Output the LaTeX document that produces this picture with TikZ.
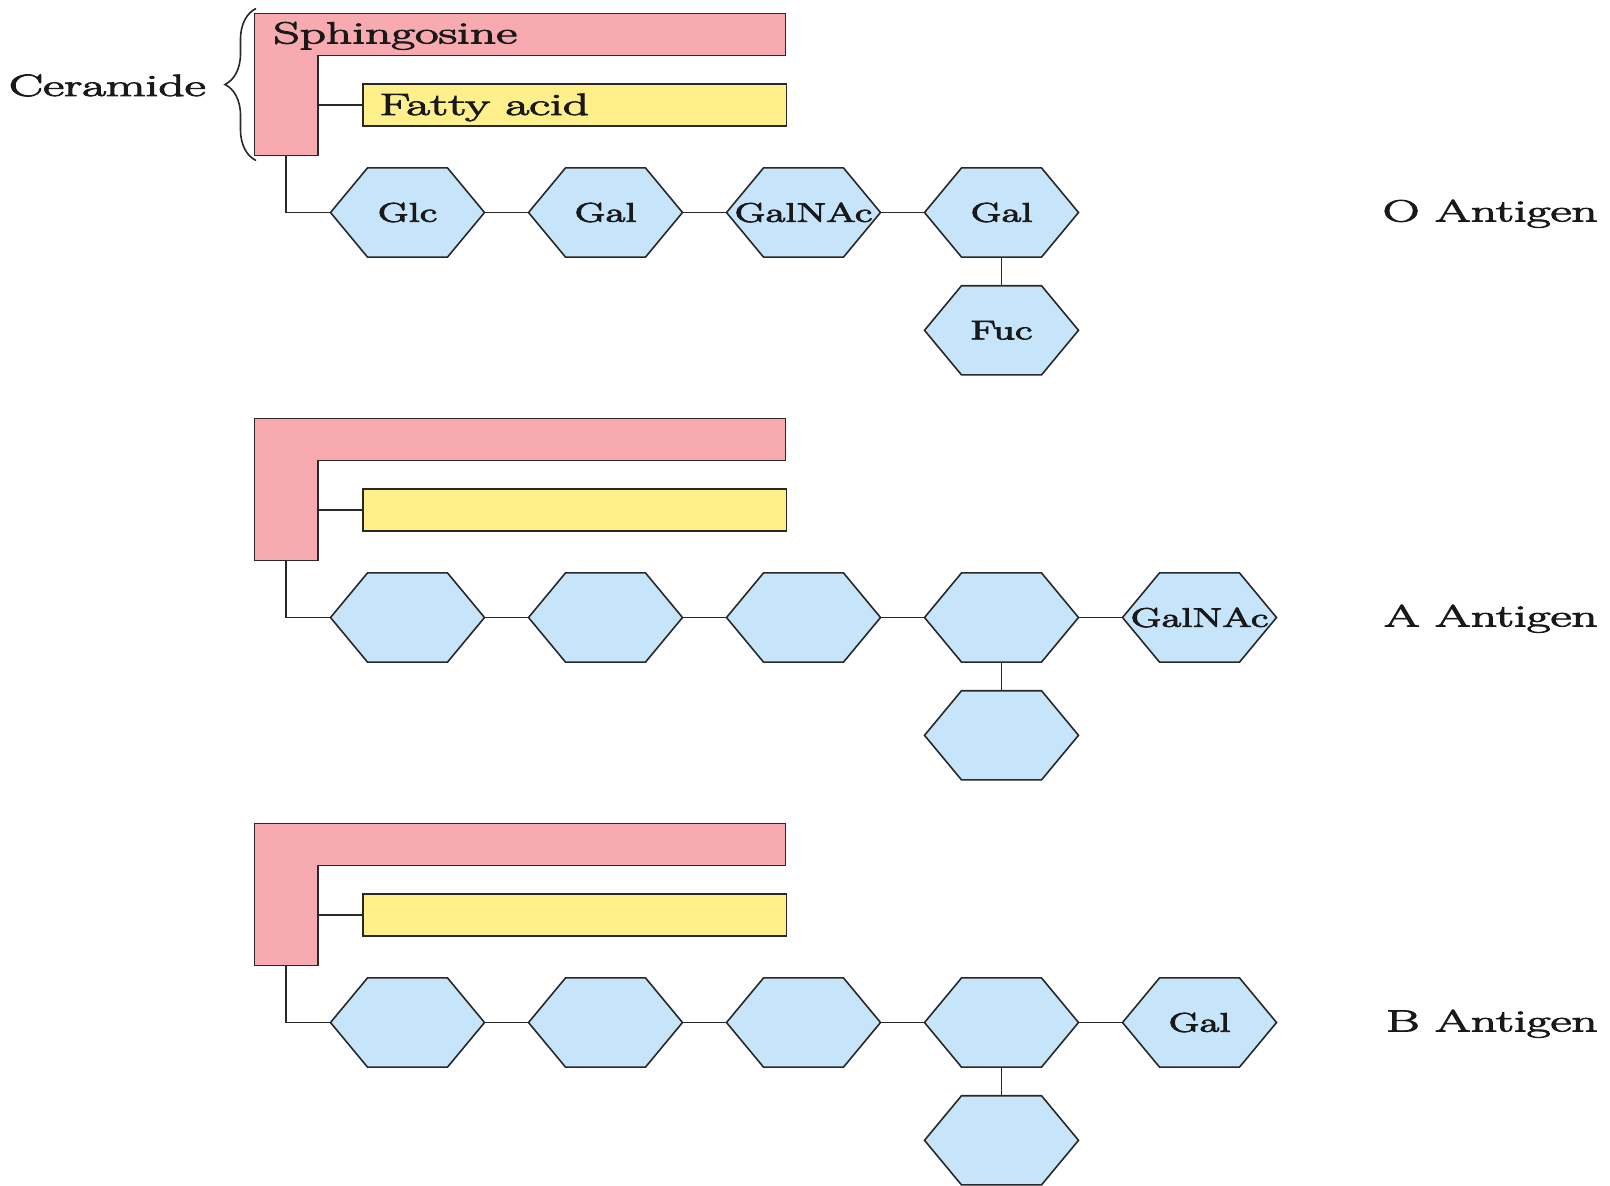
\documentclass[tikz,border=0pt]{standalone}
\usepackage{graphicx}
\usepackage{fontspec}
\newfontfamily\heavy{Latin Modern Roman}[FakeBold=2.5]
\usetikzlibrary{decorations.pathreplacing}
\definecolor{pinkL}{RGB}{247,170,176}
\definecolor{yellowF}{RGB}{255,240,140}
\definecolor{blueH}{RGB}{199,229,250}
\definecolor{lineC}{RGB}{40,40,40}
\definecolor{textC}{RGB}{25,25,25}
\newcommand\sx[1]{\scalebox{1.5}[1]{#1}}
\newcommand\sxb[1]{\scalebox{1.67}[1]{#1}}
\tikzset{
  outl/.style={draw=lineC, line width=0.8pt, line join=miter},
  sphing/.style={outl, fill=pinkL},
  fattybox/.style={outl, fill=yellowF, anchor=west, minimum width=211.75pt, minimum height=20.85pt, inner sep=0pt},
  hexshape/.style={outl, fill=blueH},
  hexlabel/.style={minimum width=77pt, minimum height=44.6pt, inner sep=0pt, text=textC, font=\heavy\fontsize{13.5}{16}\selectfont},
  biglabel/.style={inner sep=0pt, text=textC, font=\heavy\fontsize{15.4}{18}\selectfont},
  link/.style={draw=lineC, line width=0.8pt},
}
% ceramide unit: prefix, dy, sphingosine text, fatty acid text
\newcommand\ceram[4]{%
  \draw[sphing] (254.5,13.3+#2) -- (785.5,13.3+#2) -- (785.5,55.5+#2) -- (318,55.5+#2) -- (318,155.5+#2) -- (254.5,155.5+#2) -- cycle;
  \node[biglabel, anchor=base west] (#1sp) at (273,43.5+#2) {\sxb{#3}};
  \coordinate (#1Lb) at (286,155.5+#2);
  \coordinate (#1Lf) at (318,105+#2);
  \node[fattybox] (#1fa) at (362,105+#2) {};
  \node[biglabel, anchor=base west] (#1fat) at (379,115+#2) {\sxb{#4}};
  \draw[link] (#1Lf) -- (#1fa.west);
}
% hexagon: name, x, y, label
\newcommand\hexat[4]{%
  \draw[hexshape] (#2,#3) +(-77,0) -- +(-40,44.6) -- +(40,44.6) -- +(77,0) -- +(40,-44.6) -- +(-40,-44.6) -- cycle;
  \node[hexlabel] (#1) at (#2,#3) {\sx{#4}};
}
% hex row: prefix, dy, l1, l2, l3, l4, l6
\newcommand\hexrow[7]{%
  \hexat{#1h1}{407.5}{212.5+#2}{#3}
  \hexat{#1h2}{605.5}{212.5+#2}{#4}
  \hexat{#1h3}{803.5}{212.5+#2}{#5}
  \hexat{#1h4}{1001.5}{212.5+#2}{#6}
  \hexat{#1h6}{1001.5}{330.3+#2}{#7}
  \draw[link] (#1Lb) |- (#1h1.west);
  \draw[link] (#1h1.east) -- (#1h2.west);
  \draw[link] (#1h2.east) -- (#1h3.west);
  \draw[link] (#1h3.east) -- (#1h4.west);
  \draw[link] (#1h4.south) -- (#1h6.north);
}
\begin{document}
\begin{tikzpicture}[x=0.5pt, y=-0.5pt]
\useasboundingbox (0,0) rectangle (1610,1185);
\fill[white] (0,0) rectangle (1610,1185);

% ---- O antigen ----
\ceram{o}{0}{Sphingosine}{Fatty acid}
\hexrow{o}{0}{Glc}{Gal}{GalNAc}{Gal}{Fuc}
\node[biglabel, anchor=base east] (olab) at (1598,221.5) {\sxb{O Antigen}};
\coordinate (brb) at (256,160.5);
\coordinate (brt) at (256,8.5);
\draw[draw=lineC, line width=0.8pt, decorate, decoration={brace, amplitude=15.5pt}] (brb) -- (brt);
\node[biglabel, anchor=base east] (cer) at (206,96) {\sxb{Ceramide}};

% ---- A antigen ----
\ceram{a}{405}{}{}
\hexrow{a}{405}{}{}{}{}{}
\hexat{ah5}{1199.5}{617.5}{GalNAc}
\draw[link] (ah4.east) -- (ah5.west);
\node[biglabel, anchor=base east] (alab) at (1598,626.5) {\sxb{A Antigen}};

% ---- B antigen ----
\ceram{b}{810}{}{}
\hexrow{b}{810}{}{}{}{}{}
\hexat{bh5}{1199.5}{1022.5}{Gal}
\draw[link] (bh4.east) -- (bh5.west);
\node[biglabel, anchor=base east] (blab) at (1598,1031.5) {\sxb{B Antigen}};
\end{tikzpicture}
\end{document}
